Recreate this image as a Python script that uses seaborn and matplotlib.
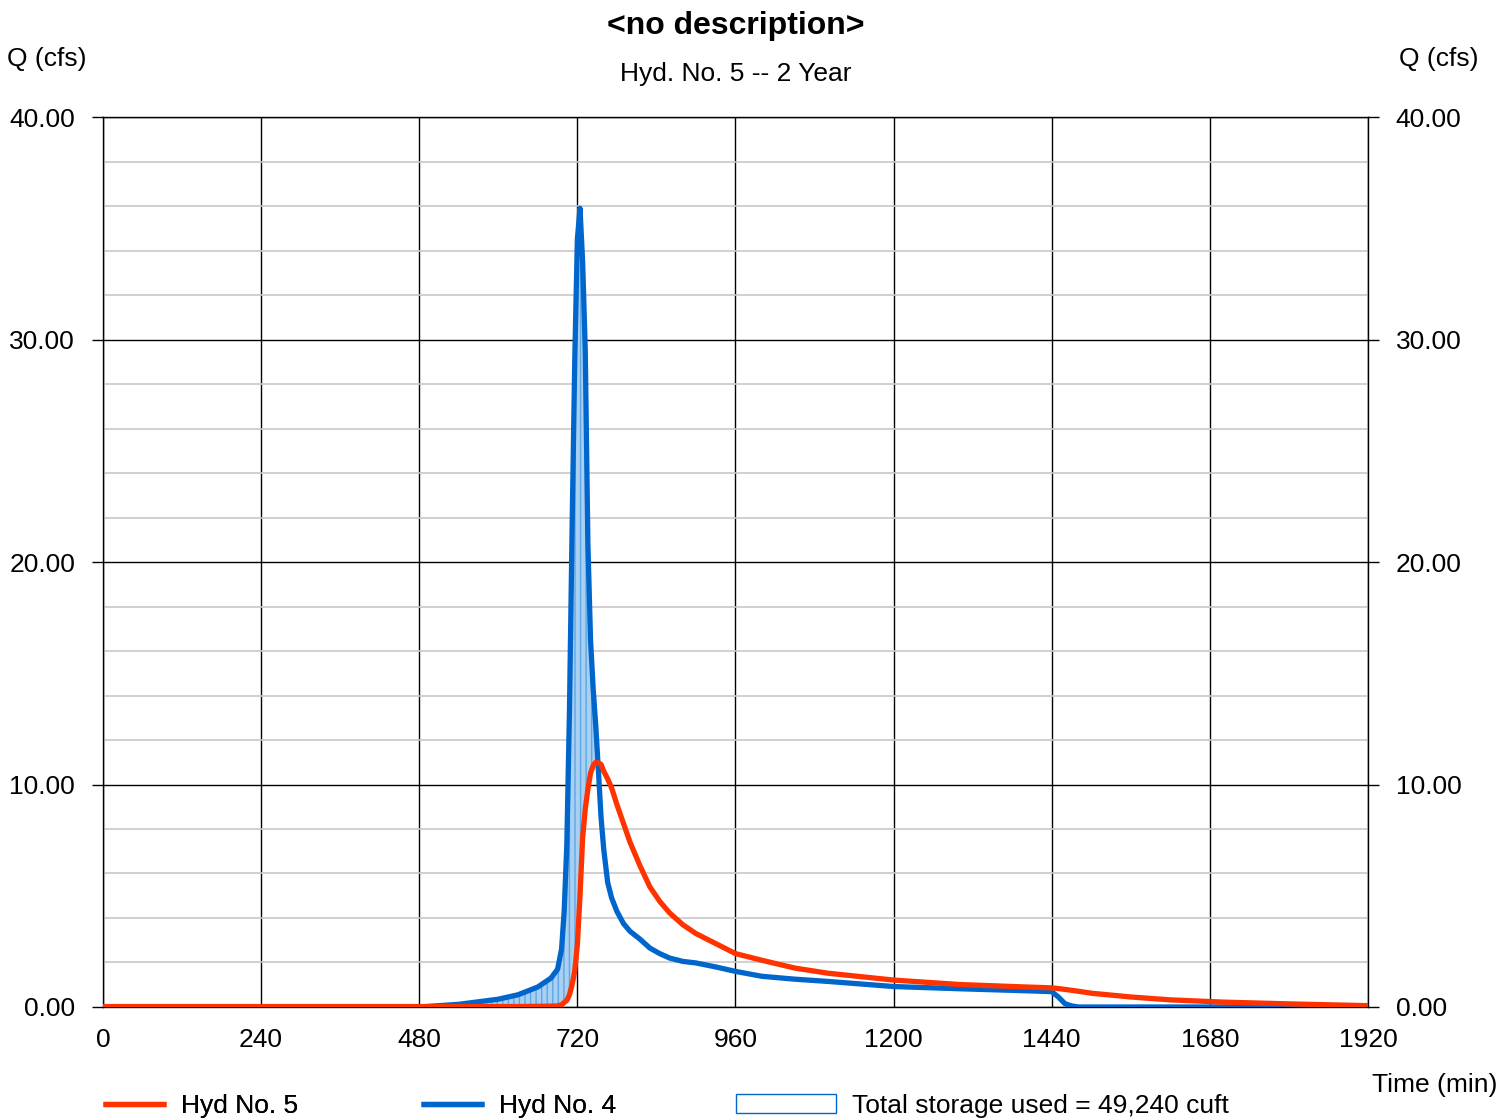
import matplotlib
matplotlib.use("Agg")
import matplotlib.pyplot as plt
import pandas as pd
import seaborn as sns
from matplotlib.lines import Line2D
from matplotlib.patches import Patch
from matplotlib.ticker import MultipleLocator, FormatStrFormatter

# hydrograph values (time in min, flow in cfs)
time = [0, 480, 540, 600, 630, 660, 680, 690, 696, 700, 704, 708, 712, 716, 720,
        724, 728, 732, 736, 740, 744, 748, 752, 756, 760, 766, 772, 780, 790, 800,
        815, 830, 845, 860, 880, 900, 930, 960, 1000, 1050, 1100, 1200, 1300, 1400,
        1440, 1450, 1460, 1470, 1480, 1500, 1560, 1620, 1700, 1800, 1920]
hyd4_inflow = [0, 0, 0.12, 0.35, 0.55, 0.9, 1.3, 1.7, 2.6, 4.3, 7.3, 13.3, 21.5, 29.0, 34.5,
               35.9, 33.5, 29.5, 20.8, 16.5, 14.3, 12.6, 10.6, 8.5, 7.1, 5.6, 4.9, 4.3, 3.75, 3.4,
               3.05, 2.65, 2.4, 2.2, 2.05, 1.98, 1.8, 1.6, 1.38, 1.25, 1.15, 0.92, 0.82, 0.73,
               0.69, 0.45, 0.15, 0.05, 0.0, 0, 0, 0, 0, 0, 0]
hyd5_outflow = [0.02, 0.02, 0.02, 0.02, 0.02, 0.03, 0.04, 0.05, 0.1, 0.2, 0.3, 0.55, 1.0, 1.6, 2.8,
                5.0, 7.6, 8.9, 9.8, 10.5, 10.85, 11.0, 10.97, 10.9, 10.6, 10.25, 9.85, 9.1, 8.25, 7.4,
                6.35, 5.4, 4.75, 4.23, 3.7, 3.3, 2.85, 2.4, 2.1, 1.75, 1.52, 1.21, 1.01, 0.9,
                0.86, 0.83, 0.79, 0.75, 0.71, 0.62, 0.45, 0.32, 0.22, 0.14, 0.06]

x_ticks = [0, 240, 480, 720, 960, 1200, 1440, 1680, 1920]
storage_label = "Total storage used = 49,240 cuft"

RED = "#ff3300"
BLUE = "#0066cc"

df = pd.DataFrame({"time": time, "in": hyd4_inflow, "out": hyd5_outflow})

sns.set_theme(style="white")
plt.rcParams["font.family"] = ["Liberation Sans", "DejaVu Sans"]
plt.rcParams["text.color"] = "black"
plt.rcParams["xtick.color"] = "black"
plt.rcParams["ytick.color"] = "black"

fig = plt.figure(figsize=(14.99, 11.2), dpi=100)
ax = fig.add_axes([0.0687, 0.1009, 0.8439, 0.7946])

# storage area between inflow and outflow
ax.fill_between(df["time"], df["out"], df["in"], where=df["in"] > df["out"],
                interpolate=True, facecolor="#a8d0f2", edgecolor="#5ea6e4",
                hatch="|||", linewidth=0, zorder=2)

sns.lineplot(data=df, x="time", y="in", color=BLUE, lw=3.8, ax=ax, zorder=3)
sns.lineplot(data=df, x="time", y="out", color=RED, lw=3.8, ax=ax, zorder=4)

ax.set_xlim(0, 1920)
ax.set_ylim(0, 40)
ax.set_xticks(x_ticks)
ax.yaxis.set_major_locator(MultipleLocator(10))
ax.yaxis.set_minor_locator(MultipleLocator(2))
ax.yaxis.set_major_formatter(FormatStrFormatter("%.2f"))
ax.set_xlabel("")
ax.set_ylabel("")

ax.set_axisbelow(True)
ax.grid(which="major", color="black", lw=1.0)
ax.grid(which="minor", axis="y", color="#c8c8c8", lw=1.2)
for s in ax.spines.values():
    s.set_color("black")
    s.set_linewidth(1.0)

ax.tick_params(axis="x", length=0, pad=15, labelsize=19, colors="black")
ax.tick_params(axis="y", which="major", left=True, right=True, labelleft=True,
               labelright=True, length=8, width=1, pad=12, labelsize=19, colors="black")
ax.tick_params(axis="y", which="minor", length=0)

fig.text(0.4907, 0.977, "<no description>", ha="center", va="center",
         fontsize=23, fontweight="bold")
fig.text(0.4907, 0.934, "Hyd. No. 5 -- 2 Year", ha="center", va="center", fontsize=19)
fig.text(0.005, 0.947, "Q (cfs)", ha="left", va="center", fontsize=19)
fig.text(0.986, 0.947, "Q (cfs)", ha="right", va="center", fontsize=19)
fig.text(0.999, 0.031, "Time (min)", ha="right", va="center", fontsize=19)

leg1 = fig.legend(handles=[Line2D([], [], color=RED, lw=3.8, solid_capstyle="butt"),
                           Line2D([], [], color=BLUE, lw=3.8, solid_capstyle="butt")],
                  labels=["Hyd No. 5", "Hyd No. 4"], ncol=2, frameon=False,
                  loc="center left", bbox_to_anchor=(0.0687, 0.0125), borderpad=0,
                  borderaxespad=0, fontsize=19, handlelength=2.4, handletextpad=0.55,
                  columnspacing=4.65)
fig.add_artist(leg1)
fig.legend(handles=[Patch(facecolor="white", edgecolor=BLUE, lw=1)],
           labels=[storage_label], frameon=False, loc="center left",
           bbox_to_anchor=(0.491, 0.0125), borderpad=0, borderaxespad=0,
           fontsize=19, handlelength=3.8, handleheight=0.75, handletextpad=0.6)

fig.savefig("out.png", dpi=100)
